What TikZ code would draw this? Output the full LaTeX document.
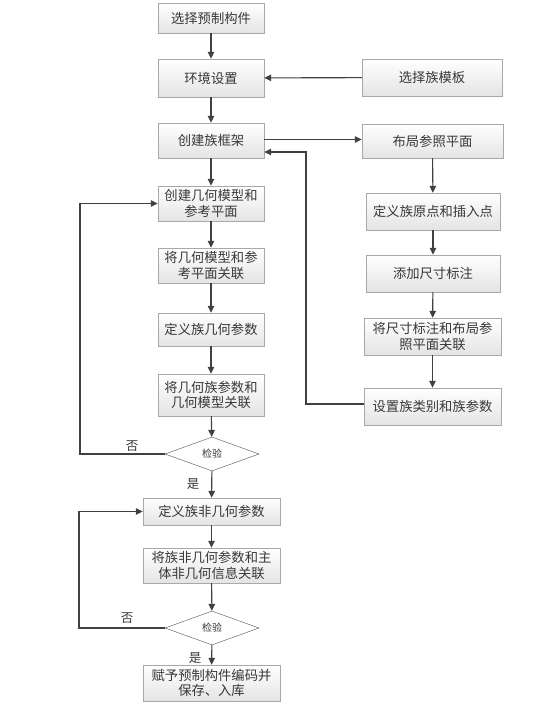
\documentclass[tikz,border=0pt]{standalone}
\usepackage{fontspec}
\setmainfont{Noto Sans CJK SC}
\usetikzlibrary{arrows.meta,shapes.geometric,shadows}
\definecolor{boxborder}{HTML}{A8A8A8}
\definecolor{boxfill}{HTML}{E4E4E4}
\definecolor{diaborder}{HTML}{505050}
\definecolor{arrc}{HTML}{404040}
\definecolor{txt}{HTML}{383838}
\begin{document}
\begin{tikzpicture}[x=1pt,y=-1pt,
  box/.style={draw=boxborder, top color=white, bottom color=boxfill, align=center,
    inner sep=2pt, font=\fontsize{13.3}{15.5}\selectfont, text=txt,
    drop shadow={shadow xshift=1.2pt, shadow yshift=-1.2pt, opacity=0.25}},
  dia/.style={diamond, draw=diaborder, fill=white, aspect=2.8, inner sep=0pt,
    minimum width=94pt, minimum height=34pt, font=\fontsize{10}{12}\selectfont, text=txt},
  arr/.style={draw=arrc, line width=1.1pt, -{Triangle[length=7pt,width=6.5pt]}},
  lbl/.style={font=\fontsize{12.5}{14}\selectfont, text=txt}]
\useasboundingbox (0,0) rectangle (554,710);

% left column
\node[box, minimum width=106pt, minimum height=30pt] (b1) at (211,18) {选择预制构件};
\node[box, minimum width=106pt, minimum height=38pt] (b2) at (211,78) {环境设置};
\node[box, minimum width=106pt, minimum height=35pt] (b3) at (211,140.5) {创建族框架};
\node[box, minimum width=106pt, minimum height=35pt] (b4) at (211,203.5) {创建几何模型和\\参考平面};
\node[box, minimum width=106pt, minimum height=35pt] (b5) at (211,265.5) {将几何模型和参\\考平面关联};
\node[box, minimum width=106pt, minimum height=33pt] (b6) at (211,329.5) {定义族几何参数};
\node[box, minimum width=106pt, minimum height=42pt] (b7) at (211,395) {将几何族参数和\\几何模型关联};
\node[dia] (d1) at (212,454) {检验};
\node[box, minimum width=137pt, minimum height=27pt] (b8) at (211.5,511.5) {定义族非几何参数};
\node[box, minimum width=137pt, minimum height=35pt] (b9) at (211.5,565.5) {将族非几何参数和主\\体非几何信息关联};
\node[dia] (d2) at (212,628) {检验};
\node[box, minimum width=137pt, minimum height=36pt] (b10) at (211.5,683) {赋予预制构件编码并\\保存、入库};

% right column
\node[box, minimum width=140pt, minimum height=37pt] (r1) at (432,77.5) {选择族模板};
\node[box, minimum width=141pt, minimum height=34pt] (r2) at (432.5,141) {布局参照平面};
\node[box, minimum width=134pt, minimum height=37pt] (r3) at (433,211.5) {定义族原点和插入点};
\node[box, minimum width=134pt, minimum height=37pt] (r4) at (433,273.5) {添加尺寸标注};
\node[box, minimum width=137pt, minimum height=37pt] (r5) at (432.5,336.5) {将尺寸标注和布局参\\照平面关联};
\node[box, minimum width=137pt, minimum height=37pt] (r6) at (432.5,406.5) {设置族类别和族参数};

% main flow
\draw[arr] (b1) -- (b2);
\draw[arr] (b2) -- (b3);
\draw[arr] (b3) -- (b4);
\draw[arr] (b4) -- (b5);
\draw[arr] (b5) -- (b6);
\draw[arr] (b6) -- (b7);
\draw[arr] (b7) -- (d1);
\draw[arr] (d1) -- (b8);
\draw[arr] (b8) -- (b9);
\draw[arr] (b9) -- (d2);
\draw[arr] (d2) -- (b10);

% right flow
\draw[arr] (r1) -- (b2);
\draw[arr] (b3.east |- 0,139.5) -- (r2.west |- 0,139.5);
\draw[arr] (r2) -- (r3);
\draw[arr] (r3) -- (r4);
\draw[arr] (r4) -- (r5);
\draw[arr] (r5) -- (r6);
\coordinate (fb) at (306,152);
\draw[arr] (r6.west |- 0,404) -| (fb) -- (b3.east |- fb);

% loops
\coordinate (l1) at (80,203.5);
\draw[arr] (d1.west) -| (l1) -- (b4.west);
\coordinate (l2) at (79,511.5);
\draw[arr] (d2.west) -| (l2) -- (b8.west);

% labels
\node[lbl] (n1) at (132,446) {否};
\node[lbl] (y1) at (193,484) {是};
\node[lbl] (n2) at (127,618) {否};
\node[lbl] (y2) at (195,658) {是};
\end{tikzpicture}
\end{document}
